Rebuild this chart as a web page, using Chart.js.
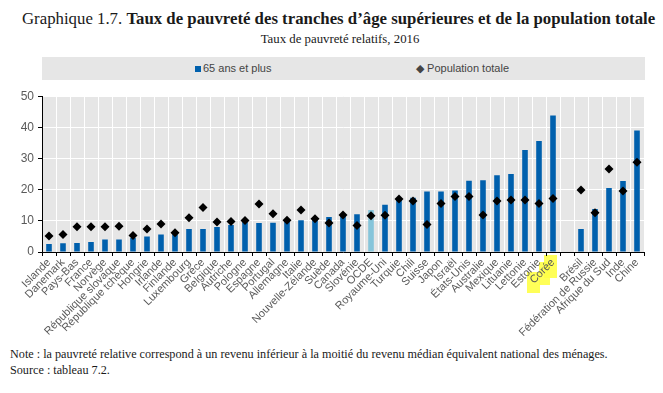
<!DOCTYPE html>
<html>
<head>
<meta charset="utf-8">
<script src="https://cdn.jsdelivr.net/npm/chart.js@4/dist/chart.umd.min.js"></script>
<style>
  body { margin: 0; width: 663px; height: 393px; background: #fff; position: relative; overflow: hidden; }
  #titre { position: absolute; left: 22px; top: 9px; font: 16.8px "Liberation Serif", serif; color: #1a1a1a; white-space: nowrap; }
  #titre b { font-weight: bold; }
  #sousTitre { position: absolute; left: 0; width: 680px; top: 32px; text-align: center; font: 12.8px "Liberation Serif", serif; color: #1a1a1a; }
  #legende { position: absolute; left: 42px; top: 57px; width: 603px; height: 23px; background: #e6e6e6; font: 11px "Liberation Sans Narrow", "Liberation Sans", sans-serif; color: #444; }
  .item { position: absolute; top: 5px; white-space: nowrap; }
  .carre { display: inline-block; width: 6px; height: 6px; background: #0060ad; margin-right: 2px; }
  #zone { position: absolute; left: 0; top: 85px; width: 663px; height: 255px; }
  #note { position: absolute; left: 10px; top: 346px; font: 12.2px "Liberation Serif", serif; color: #1a1a1a; line-height: 16px; }
</style>
</head>
<body>
<div id="titre">Graphique 1.7. <b>Taux de pauvreté des tranches d’âge supérieures et de la population totale</b></div>
<div id="sousTitre">Taux de pauvreté relatifs, 2016</div>
<div id="legende">
  <span class="item" style="left:153px"><span class="carre"></span>65 ans et plus</span>
  <span class="item" style="left:374px">◆ Population totale</span>
</div>
<div id="zone"><canvas id="graphique"></canvas></div>
<div id="note">Note : la pauvreté relative correspond à un revenu inférieur à la moitié du revenu médian équivalent national des ménages.<br>Source : tableau 7.2.</div>
<script>
// Données (%)
const pays = [
  'Islande', 'Danemark', 'Pays-Bas', 'France', 'Norvège', 'République slovaque',
  'République tchèque', 'Hongrie', 'Irlande', 'Finlande', 'Luxembourg', 'Grèce',
  'Belgique', 'Autriche', 'Pologne', 'Espagne', 'Portugal', 'Allemagne', 'Italie',
  'Nouvelle-Zélande', 'Suède', 'Canada', 'Slovénie', 'OCDE', 'Royaume-Uni', 'Turquie',
  'Chili', 'Suisse', 'Japon', 'Israël', 'États-Unis', 'Australie', 'Mexique',
  'Lituanie', 'Lettonie', 'Estonie', 'Corée', '',
  'Brésil', 'Fédération de Russie', 'Afrique du Sud', 'Inde', 'Chine'
];
const tauxSeniors = [
  2.6, 2.8, 2.9, 3.2, 4.0, 4.0, 4.5, 5.0, 5.6, 5.7, 7.4, 7.4, 8.0, 8.7,
  9.8, 9.3, 9.4, 10.3, 10.2, 10.9, 11.2, 11.9, 12.1, 13.5, 15.2, 17.2,
  17.4, 19.4, 19.4, 19.7, 22.9, 23.0, 24.6, 25.0, 32.7, 35.6, 43.8, null,
  7.4, 13.8, 20.5, 22.8, 39.0
];
const tauxTotal = [
  5.1, 5.6, 8.1, 8.1, 8.1, 8.3, 5.3, 7.4, 9.0, 6.2, 11.0, 14.3, 9.6, 9.8,
  10.1, 15.4, 12.3, 10.2, 13.5, 10.7, 9.3, 11.9, 8.5, 11.6, 11.8, 17.0,
  16.4, 8.8, 15.6, 17.8, 17.8, 11.9, 16.4, 16.7, 16.7, 15.6, 17.2, null,
  19.9, 12.6, 26.6, 19.6, 28.8
];
const yMin = 0, yMax = 50, yPas = 5;
const paysSurligne = 'Corée';

const bleu = '#0060ad';
const bleuOcde = '#86c5da';

const fondPlugin = {
  id: 'fond',
  beforeDraw(chart) {
    const { ctx, chartArea: a, scales } = chart;
    ctx.save();
    ctx.fillStyle = '#e6e6e6';
    ctx.fillRect(a.left, a.top, a.right - a.left, a.bottom - a.top);
    // surlignage jaune de la Corée
    const x = scales.x.getPixelForValue(pays.indexOf(paysSurligne));
    const b = a.bottom;
    ctx.fillStyle = 'rgba(255, 255, 70, 0.9)';
    ctx.fillRect(x - 9, b + 3, 13, 23);
    ctx.fillRect(x - 14, b + 10, 11, 23);
    ctx.fillRect(x - 26, b + 20, 13, 21);
    ctx.restore();
  }
};

new Chart(document.getElementById('graphique'), {
  data: {
    labels: pays,
    datasets: [
      {
        type: 'line',
        label: 'Population totale',
        data: tauxTotal,
        showLine: false,
        pointStyle: 'rectRot',
        pointRadius: 4.5,
        pointBackgroundColor: '#000',
        pointBorderColor: '#000',
        pointBorderWidth: 0,
        order: 0
      },
      {
        type: 'bar',
        label: '65 ans et plus',
        data: tauxSeniors,
        backgroundColor: pays.map(p => p === 'OCDE' ? bleuOcde : bleu),
        barPercentage: 0.4,
        categoryPercentage: 1,
        order: 1
      }
    ]
  },
  options: {
    responsive: true,
    maintainAspectRatio: false,
    animation: false,
    layout: { padding: { top: 10, right: 19, left: 0, bottom: 0 } },
    plugins: {
      legend: { display: false },
      tooltip: { enabled: false }
    },
    scales: {
      x: {
        offset: true,
        grid: { color: '#fff', lineWidth: 1, tickColor: '#000', tickLength: 4, offset: true },
        border: { color: '#000', width: 1 },
        ticks: {
          autoSkip: false,
          maxRotation: 45,
          minRotation: 45,
          padding: 0,
          color: '#5a5a5a',
          font: { family: 'Liberation Sans Narrow, Liberation Sans', size: 11 }
        },
        afterFit: s => { s.height = 88; }
      },
      y: {
        min: yMin,
        max: yMax,
        grid: { color: '#fff', lineWidth: 1, tickColor: '#000', tickLength: 4 },
        border: { color: '#000', width: 1 },
        ticks: {
          stepSize: yPas,
          padding: 4,
          color: '#5a5a5a',
          font: { family: 'Liberation Sans Narrow, Liberation Sans', size: 12 }
        },
        afterFit: s => { s.width = 42; }
      }
    }
  },
  plugins: [fondPlugin]
});
</script>
</body>
</html>
